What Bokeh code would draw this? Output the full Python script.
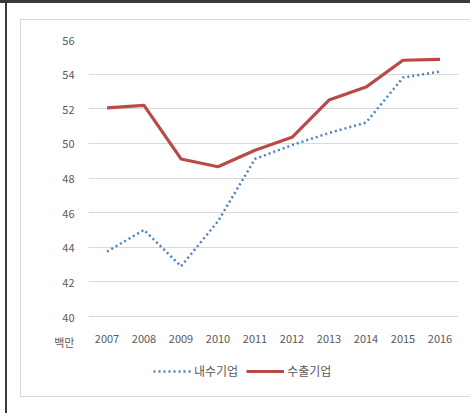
from bokeh.plotting import figure
from bokeh.models import (FactorRange, Range1d, FixedTicker, Legend, LegendItem)
from bokeh.embed import file_html
from bokeh.resources import INLINE

years = ["2007", "2008", "2009", "2010", "2011", "2012", "2013", "2014", "2015", "2016"]
domestic = [43.75, 45.0, 42.9, 45.5, 49.1, 49.9, 50.6, 51.2, 53.8, 54.15]
export = [52.05, 52.2, 49.1, 48.65, 49.6, 50.35, 52.5, 53.25, 54.8, 54.85]
y_ticks = [40, 42, 44, 46, 48, 50, 52, 54, 56]
series_names = ["내수기업", "수출기업"]
unit_label = "백만"

FONT = "Noto Sans CJK KR"
TXT = "#595959"

# frame: x 88..458, y 39..413 ; value axis 40..56 occupies the top 277 px
FRAME_H = 413 - 39
AXIS_H = 277
y_top = y_ticks[-1]
y_bottom = y_top - (y_ticks[-1] - y_ticks[0]) * FRAME_H / AXIS_H
UNIT_POS = 38.5   # unit caption sits just under the lowest gridline

p = figure(width=470, height=413, output_backend="svg", toolbar_location=None,
           x_range=FactorRange(factors=years, range_padding=0),
           y_range=Range1d(y_bottom, y_top),
           min_border_left=88, min_border_right=12, min_border_top=39, min_border_bottom=0)
p.background_fill_color = None
p.border_fill_color = None
p.outline_line_color = None

# page frame lines drawn as CSS background layers (no effect on layout)
def _line(color, x, y, w, h):
    return f"linear-gradient({color},{color}) {x}px {y}px / {w}px {h}px no-repeat"

p.styles = {"background": ", ".join([
    _line("#3a3a3a", 0, 0, 470, 3),      # outer top
    _line("#3a3a3a", 5, 0, 2, 413),      # outer left
    _line("#D9D9D9", 20, 19, 450, 1),    # inner top
    _line("#D9D9D9", 20, 19, 1, 378),    # inner left
    _line("#D9D9D9", 20, 396, 450, 1),   # inner bottom
    "white",
])}

# grid
p.xgrid.grid_line_color = None
p.ygrid.ticker = FixedTicker(ticks=y_ticks)
p.ygrid.grid_line_color = "#D9D9D9"
p.ygrid.grid_line_width = 1.2
p.yaxis.ticker = FixedTicker(ticks=[UNIT_POS] + y_ticks)
p.yaxis.major_label_overrides = {UNIT_POS: unit_label}
p.xaxis.fixed_location = y_ticks[0]

for ax in (p.xaxis[0], p.yaxis[0]):
    ax.axis_line_color = None
    ax.major_tick_line_color = None
    ax.minor_tick_line_color = None
    ax.major_label_text_font = FONT
    ax.major_label_text_font_size = "11px"
    ax.major_label_text_color = TXT
p.yaxis.major_label_standoff = 8
p.xaxis.major_label_standoff = 12

r_dom = p.line(years, domestic, line_color="#4F81BD", line_width=2.5, line_dash="2 3")
r_exp = p.line(years, export, line_color="#B94A48", line_width=3.2)

legend = Legend(items=[LegendItem(label=series_names[0], renderers=[r_dom]),
                       LegendItem(label=series_names[1], renderers=[r_exp])],
                orientation="horizontal", location=(65, 34),
                glyph_width=38, glyph_height=12, spacing=8, label_standoff=3,
                label_text_font=FONT, label_text_font_size="12px",
                label_text_color=TXT, background_fill_alpha=0,
                border_line_color=None, padding=2, margin=0)
p.add_layout(legend, "center")

open("out.html", "w").write(file_html(p, INLINE))
